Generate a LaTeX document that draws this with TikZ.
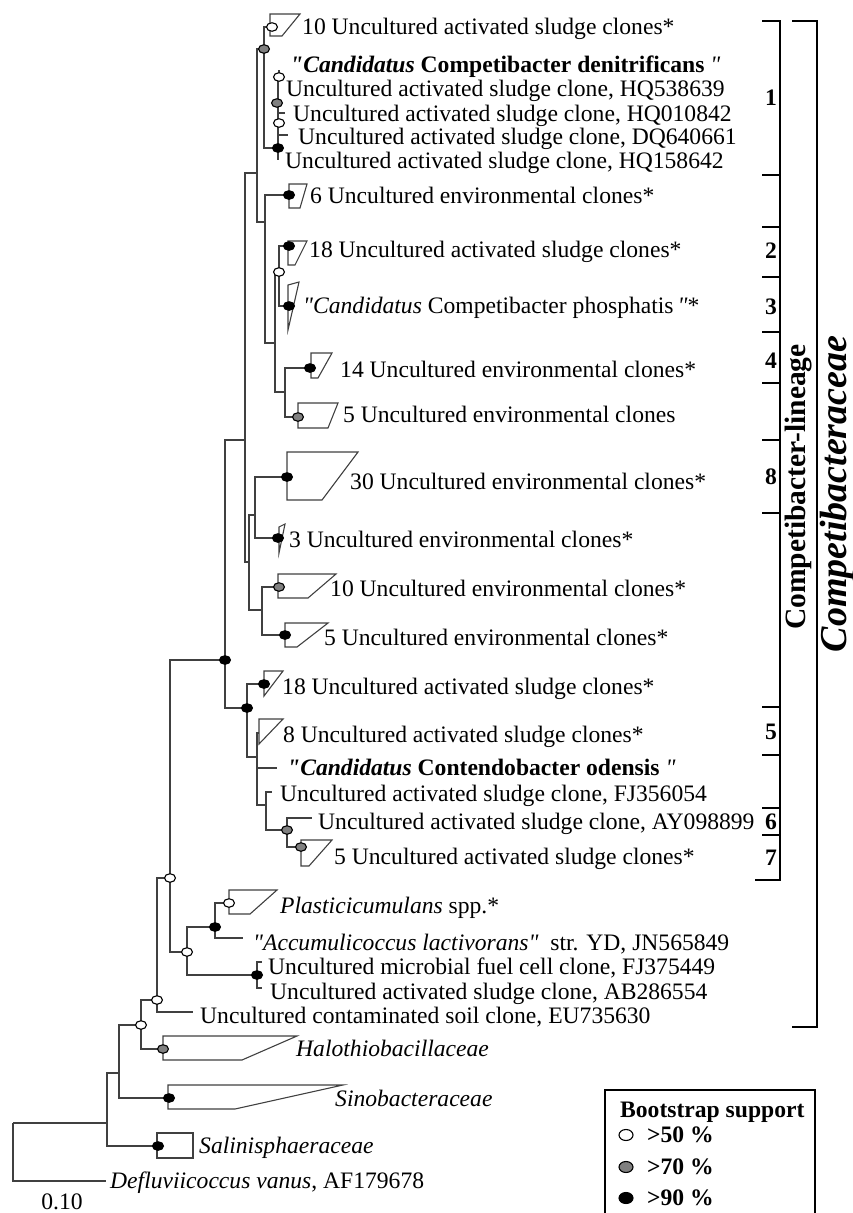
\documentclass[tikz,border=0pt]{standalone}
\usepackage{fontspec}
\setmainfont{Liberation Serif}
\usetikzlibrary{shapes.geometric}
\newcommand\fsz{\fontsize{23.6}{28}\selectfont}
\newcommand\qq{\textquotedbl}
\tikzset{
 br/.style={draw=black!75, line width=1.1pt},
 clade/.style={draw=black!75, line width=1.1pt, fill=white},
 bs/.style={ellipse, draw=black, line width=1.1pt, minimum width=11pt, minimum height=8.5pt, inner sep=0pt},
 bsO/.style={bs, fill=white},
 bsG/.style={bs, fill=gray},
 bsB/.style={bs, fill=black},
 lab/.style={anchor=base west, inner sep=0pt, font=\fsz},
 labb/.style={anchor=base west, inner sep=0pt, font=\fsz\bfseries},
 brk/.style={draw=black, line width=2pt},
 num/.style={anchor=east, inner sep=0pt, font=\fsz\bfseries},
 legc/.style={minimum width=14pt, minimum height=11pt},
}
\begin{document}
\begin{tikzpicture}[x=1pt,y=-1pt]
\useasboundingbox (0,0) rectangle (852,1213);
% internal nodes
\coordinate (R) at (13,1123);
\coordinate (Q) at (107,1123);
\coordinate (S) at (119,1073);
\coordinate (T) at (141,1025);
\coordinate (U) at (157,1000);
\coordinate (L) at (170,878);
\coordinate (N) at (187,952);
\coordinate (O) at (215,927);
\coordinate (P) at (257,975);
\coordinate (A) at (225,660);
\coordinate (B) at (245,440);
\coordinate (D) at (257,173);
\coordinate (W) at (264,49);
\coordinate (X) at (278,148);
\coordinate (V) at (265,222);
\coordinate (Z) at (275,343);
\coordinate (Y) at (279,272);
\coordinate (Z2) at (285,392);
\coordinate (E) at (249,562);
\coordinate (F) at (255,515);
\coordinate (G) at (262,610);
\coordinate (C) at (247,708);
\coordinate (H) at (257,757);
\coordinate (I) at (266,805);
\coordinate (J) at (287,830);
% tips
\coordinate (defl) at (106,1181);
\coordinate (salin) at (158,1146);
\coordinate (sino) at (169,1098);
\coordinate (halo) at (163,1049);
\coordinate (eu) at (193,1012);
\coordinate (plast) at (229,903);
\coordinate (accum) at (243,938);
\coordinate (fjA) at (262,962);
\coordinate (abA) at (262,988);
\coordinate (t10s) at (272,27);
\coordinate (t6e) at (289,195);
\coordinate (t18s) at (289,246);
\coordinate (tphos) at (289,306);
\coordinate (t14e) at (310,368);
\coordinate (t5e) at (298,417);
\coordinate (t30e) at (287,477);
\coordinate (t3e) at (278,538);
\coordinate (t10e) at (279,587);
\coordinate (t5eb) at (285,635);
\coordinate (t18sb) at (264,684);
\coordinate (t8s) at (259,733);
\coordinate (cont) at (277,768);
\coordinate (fjB) at (272,792);
\coordinate (ay) at (312,818);
\coordinate (t5s) at (301,847);
% cluster 1 inner points
\coordinate (xtop) at (279,70);
\coordinate (xa) at (279,77);
\coordinate (xb) at (278,77);
\coordinate (xbot) at (278,160);
\coordinate (xg) at (277,103);
\coordinate (xo) at (279,123);
\coordinate (k1a) at (278,113);
\coordinate (k1b) at (285,113);
\coordinate (k2a) at (278,135);
\coordinate (k2b) at (288,135);

% branches
\foreach \p/\c in {R/Q,R/defl,Q/S,Q/salin,S/T,S/sino,T/U,T/halo,U/L,U/eu,L/A,L/N,N/O,N/P,O/plast,O/accum,P/fjA,P/abA,
  A/B,A/C,B/D,B/E,D/W,D/V,W/t10s,W/X,V/t6e,V/Z,Z/Y,Z/Z2,Y/t18s,Y/tphos,Z2/t14e,Z2/t5e,E/F,E/G,F/t30e,F/t3e,G/t10e,G/t5eb,
  C/t18sb,C/H,H/t8s,H/cont,H/I,I/fjB,I/J,J/ay,J/t5s}
  \draw[br] (\p) |- (\c);
\draw[br] (xtop) -- (xa) -- (xb) -- (xbot);
\draw[br] (k1a) -- (k1b);
\draw[br] (k2a) -- (k2b);

% collapsed clades
\draw[clade] (270,14) -- (300,14) -- (282,36) -- (270,36) -- cycle;
\draw[clade] (289,184) -- (307,184) -- (300,208) -- (289,208) -- cycle;
\draw[clade] (288,241) -- (307,241) -- (295,265) -- (288,265) -- cycle;
\draw[clade] (288,285) -- (299,282) -- (288,330) -- cycle;
\draw[clade] (311,353) -- (332,353) -- (318,378) -- (311,378) -- cycle;
\draw[clade] (298,403) -- (338,403) -- (328,428) -- (298,428) -- cycle;
\draw[clade] (287,452) -- (358,452) -- (322,500) -- (287,500) -- cycle;
\draw[clade] (279,527) -- (285,524) -- (279,553) -- cycle;
\draw[clade] (278,574) -- (336,574) -- (308,598) -- (278,598) -- cycle;
\draw[clade] (285,623) -- (328,623) -- (297,647) -- (285,647) -- cycle;
\draw[clade] (264,671) -- (283,671) -- (264,696) -- cycle;
\draw[clade] (259,719) -- (283,719) -- (259,744) -- cycle;
\draw[clade] (301,840) -- (332,840) -- (309,866) -- (301,866) -- cycle;
\draw[clade] (229,890) -- (277,890) -- (250,914) -- (229,914) -- cycle;
\draw[clade] (163,1036) -- (297,1036) -- (242,1060) -- (163,1060) -- cycle;
\draw[clade] (168,1085) -- (343,1085) -- (235,1109) -- (168,1109) -- cycle;
\draw[clade] (157,1133) -- (193,1133) -- (193,1158) -- (157,1158) -- cycle;

% bootstrap circles
\foreach \n in {t10s,xa,xo,Y,plast,N,L,U,T} \node[bsO] at (\n) {};
\foreach \n in {W,xg,t5e,t10e,J,t5s,halo} \node[bsG] at (\n) {};
\foreach \n in {X,t6e,t18s,tphos,t14e,t30e,t3e,t5eb,A,t18sb,C,O,P,sino,salin} \node[bsB] at (\n) {};

% labels
\node[lab] at (302,34) {10 Uncultured activated sludge clones*};
\node[labb] at (290,72) {\textit{\qq Candidatus} Competibacter denitrificans {\mdseries\itshape\qq}};
\node[lab] at (286,96) {Uncultured activated sludge clone, HQ538639};
\node[lab] at (293,121) {Uncultured activated sludge clone, HQ010842};
\node[lab] at (298,144) {Uncultured activated sludge clone, DQ640661};
\node[lab] at (285,168) {Uncultured activated sludge clone, HQ158642};
\node[lab] at (310,203) {6 Uncultured environmental clones*};
\node[lab] at (309,257) {18 Uncultured activated sludge clones*};
\node[lab] at (303,313) {\textit{\qq Candidatus} Competibacter phosphatis\,\textit{\qq}*};
\node[lab] at (340,377) {14 Uncultured environmental clones*};
\node[lab] at (343,422) {5 Uncultured environmental clones};
\node[lab] at (350,489) {30 Uncultured environmental clones*};
\node[lab] at (289,547) {3 Uncultured environmental clones*};
\node[lab] at (330,596) {10 Uncultured environmental clones*};
\node[lab] at (324,645) {5 Uncultured environmental clones*};
\node[lab] at (282,694) {18 Uncultured activated sludge clones*};
\node[lab] at (283,742) {8 Uncultured activated sludge clones*};
\node[labb] at (287,775) {\textit{\qq Candidatus} Contendobacter odensis {\mdseries\itshape\qq}};
\node[lab] at (280,801) {Uncultured activated sludge clone, FJ356054};
\node[lab] at (318,829) {Uncultured activated sludge clone, AY098899};
\node[lab] at (334,864) {5 Uncultured activated sludge clones*};
\node[lab] at (280,913) {\textit{Plasticicumulans} spp.*};
\node[lab] at (253,950) {\textit{\qq Accumulicoccus lactivorans\qq}\ \ str. YD, JN565849};
\node[lab] at (268,974) {Uncultured microbial fuel cell clone, FJ375449};
\node[lab] at (270,999) {Uncultured activated sludge clone, AB286554};
\node[lab] at (200,1023) {Uncultured contaminated soil clone, EU735630};
\node[lab] at (296,1056) {\textit{Halothiobacillaceae}};
\node[lab] at (335,1106) {\textit{Sinobacteraceae}};
\node[lab] at (199,1153) {\textit{Salinisphaeraceae}};
\node[lab] at (110,1188) {\textit{Defluviicoccus vanus}, AF179678};
\node[font=\fsz, inner sep=0pt] (scale) at (62,1202) {0.10};

% brackets
\draw[brk] (762,21) -- (780,21) -- (780,880) -- (755,880);
\foreach \yy in {175,227,277,332,383,440,513,707,755,808,835} \draw[brk] (762,\yy) -- (780,\yy);
\draw[brk] (792,21) -- (817,21) -- (817,1027) -- (792,1027);
\node[num] at (777,98) {1};
\node[num] at (777,251) {2};
\node[num] at (777,307) {3};
\node[num] at (777,361) {4};
\node[num] at (777,477) {8};
\node[num] at (777,732) {5};
\node[num] at (777,822) {6};
\node[num] at (777,858) {7};
\node[rotate=90, font=\fontsize{29.5}{32}\selectfont\bfseries, inner sep=0pt] at (799,487) {Competibacter-lineage};
\node[rotate=90, font=\fontsize{38}{40}\selectfont\bfseries\itshape, inner sep=0pt] at (837,494) {Competibacteraceae};

% legend
\draw[brk] (605,1222) -- (605,1090) -- (815,1090) -- (815,1222);
\node[labb] at (620,1117) {Bootstrap support};
\node[bsO, legc] at (626,1135) {};
\node[bsG, legc] at (626,1167) {};
\node[bsB, legc] at (626,1198) {};
\node[labb] at (647,1142) {>50 \%};
\node[labb] at (647,1174) {>70 \%};
\node[labb] at (647,1205) {>90 \%};
\end{tikzpicture}
\end{document}
